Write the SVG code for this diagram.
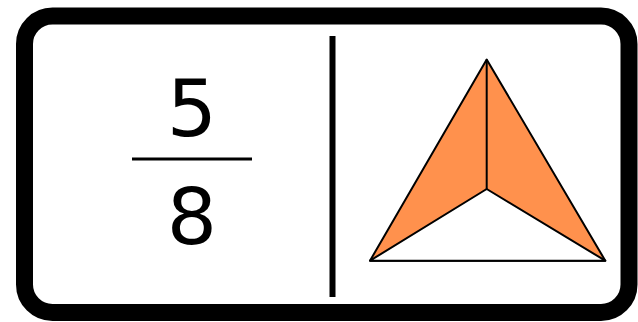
<svg xmlns="http://www.w3.org/2000/svg" width="638" height="322" viewBox="0 0 638 322">
<style>
.frame{fill:#fff;stroke:#000;stroke-width:17}
.num{font-family:"DejaVu Sans",sans-serif;font-size:79px;fill:#000;text-anchor:middle}
.ln{stroke:#000;fill:none}
.face{fill:#FF914D;stroke:#000;stroke-width:2;stroke-linejoin:round}
.hole{fill:#fff;stroke:#000;stroke-width:2;stroke-linejoin:round}
</style>
<rect width="638" height="322" fill="#fff"/>
<g id="card">
<rect class="frame" x="24.5" y="16" width="604.5" height="296.5" rx="28" ry="28"/>
</g>
<g id="fraction">
<text class="num" x="192" y="136">5</text>
<line class="ln" x1="132" y1="159" x2="252" y2="159" stroke-width="3"/>
<text class="num" x="192" y="244">8</text>
</g>
<g id="divider">
<line class="ln" x1="332.5" y1="36" x2="332.5" y2="297" stroke-width="6"/>
</g>
<g id="pyramid">
<polygon class="face" points="486.7,59.5 370,260.7 605.3,260.7"/>
<polygon class="hole" points="486.7,189 370,260.7 605.3,260.7"/>
<line class="ln" x1="486.7" y1="59.5" x2="486.7" y2="189" stroke-width="2"/>
</g>
</svg>
